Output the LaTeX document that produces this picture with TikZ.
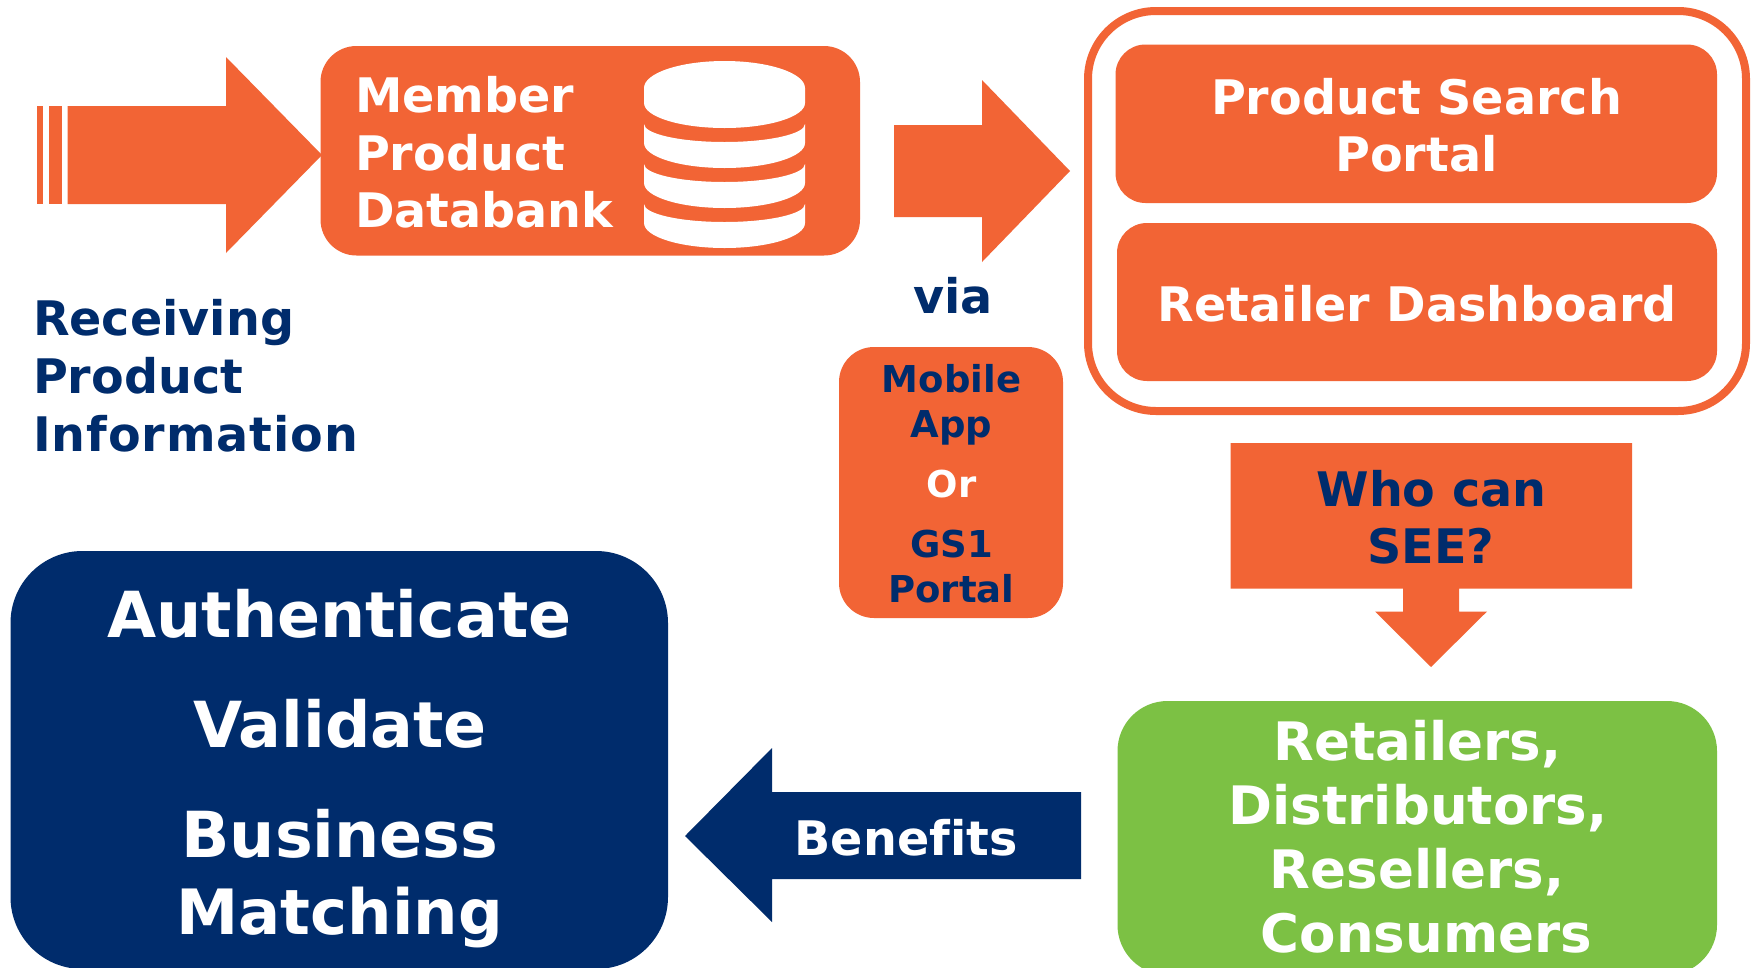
\documentclass[tikz,border=0pt]{standalone}
\usepackage{fontspec}
\setmainfont[Ligatures=NoCommon]{DejaVu Sans}
\definecolor{gsorange}{HTML}{F26435}
\definecolor{gsnavy}{HTML}{002C6C}
\definecolor{gsgreen}{HTML}{7CC144}
\tikzset{
  rbox/.style={fill=#1,draw=none,inner sep=0pt,outer sep=0pt},
  lbl/.style={anchor=base,inner sep=0pt,outer sep=0pt,font=\bfseries\fontsize{47.6}{48}\selectfont},
  lblleft/.style={lbl,anchor=base west},
  small/.style={lbl,font=\bfseries\fontsize{37}{37}\selectfont},
  big/.style={lbl,font=\bfseries\fontsize{63.5}{64}\selectfont},
  mid/.style={lbl,font=\bfseries\fontsize{53}{53}\selectfont}
}
\begin{document}
\begin{tikzpicture}[x=1pt,y=-1pt]
\useasboundingbox (0,0) rectangle (1756,967);
\clip (0,0) rectangle (1756,967);
\fill[white] (0,0) rectangle (1756,967);
% input arrow
\fill[gsorange] (36.5,106) rectangle (43,204);
\fill[gsorange] (49,106) rectangle (62,204);
\fill[gsorange] (67.5,106) -- (226,106) -- (226,57) -- (322,155) -- (226,253) -- (226,204) -- (67.5,204) -- cycle;
% databank
\node[rbox=gsorange,rounded corners=36pt,minimum width=539.5pt,minimum height=209.5pt] (bank) at (590.25,150.75) {};
\node[lblleft,text=white] (t1) at (355,112) {Member};
\node[lblleft,text=white] (t2) at (355,170) {Product};
\node[lblleft,text=white] (t3) at (355,227) {Databank};
\fill[white] (644,88) arc[start angle=180,end angle=0,x radius=80.5pt,y radius=27pt] -- (805,103) arc[start angle=0,end angle=-180,x radius=80.5pt,y radius=25pt] -- cycle;
\foreach \d in {0,40,80}{
  \fill[white] (644,124+\d) arc[start angle=180,end angle=360,x radius=80.5pt,y radius=18pt] -- (805,143+\d) arc[start angle=0,end angle=-180,x radius=80.5pt,y radius=25pt] -- cycle;
}
% receiving
\node[lblleft,text=gsnavy] (r1) at (33,335) {Receiving};
\node[lblleft,text=gsnavy] (r2) at (33,393) {Product};
\node[lblleft,text=gsnavy] (r3) at (33,451) {\addfontfeature{LetterSpace=2}Information};
% via arrow
\fill[gsorange] (894,125) -- (982,125) -- (982,80) -- (1070,171) -- (982,262) -- (982,217) -- (894,217) -- cycle;
\node[lbl,text=gsnavy] (via) at (953,313) {via};
% mobile box
\node[rbox=gsorange,rounded corners=35pt,minimum width=224pt,minimum height=271pt] (mob) at (951,482.5) {};
\node[small,text=gsnavy] (m1) at (951.5,392) {Mobile};
\node[small,text=gsnavy] (m2) at (951.5,437) {App};
\node[small,text=white] (m3) at (951.5,497) {Or};
\node[small,text=gsnavy] (m4) at (951.5,557) {GS1};
\node[small,text=gsnavy] (m5) at (951.5,602) {Portal};
% portal group
\draw[gsorange,line width=8pt,rounded corners=68pt] (1088,11) rectangle (1746,411);
\node[rbox=gsorange,rounded corners=30pt,minimum width=601.5pt,minimum height=158.5pt] (psp) at (1416.25,123.75) {};
\node[rbox=gsorange,rounded corners=30pt,minimum width=600pt,minimum height=158pt] (ret) at (1417,302) {};
\node[lbl,text=white] (p1) at (1416.5,114) {Product Search};
\node[lbl,text=white] (p2) at (1416.5,171) {Portal};
\node[lbl,text=white] (p3) at (1417.5,321) {Retailer Dashboard};
% who can see
\fill[gsorange] (1230.5,443) -- (1632,443) -- (1632,588.5) -- (1459,588.5) -- (1459,611.5) -- (1487,611.5) -- (1431,667) -- (1375,611.5) -- (1403,611.5) -- (1403,588.5) -- (1230.5,588.5) -- cycle;
\node[lbl,text=gsnavy] (w1) at (1431.5,506) {Who can};
\node[lbl,text=gsnavy] (w2) at (1431,563.5) {SEE?};
% green
\node[rbox=gsgreen,rounded corners=50pt,minimum width=599.5pt,minimum height=274pt] (grn) at (1417.25,838) {};
\node[mid,text=white] (g1) at (1417.5,760.5) {Retailers,};
\node[mid,text=white] (g2) at (1418,824) {Distributors,};
\node[mid,text=white] (g3) at (1417,888) {Resellers,};
\node[mid,text=white] (g4) at (1426.5,952) {Consumers};
% benefits arrow
\fill[gsnavy] (1081,792) -- (772,792) -- (772,748) -- (685,836) -- (772,922) -- (772,879) -- (1081,879) -- cycle;
\node[lbl,text=white] (b) at (906,855) {Benefits};
% navy box
\node[rbox=gsnavy,rounded corners=72pt,minimum width=657.5pt,minimum height=418pt] (nav) at (339.25,760) {};
\node[big,text=white] (n1) at (339.5,637) {Authenticate};
\node[big,text=white] (n2) at (340,747) {Validate};
\node[big,text=white] (n3) at (340,857) {Business};
\node[big,text=white,font=\bfseries\fontsize{62.5}{64}\selectfont] (n4) at (339.5,934) {Matching};
\end{tikzpicture}
\end{document}
